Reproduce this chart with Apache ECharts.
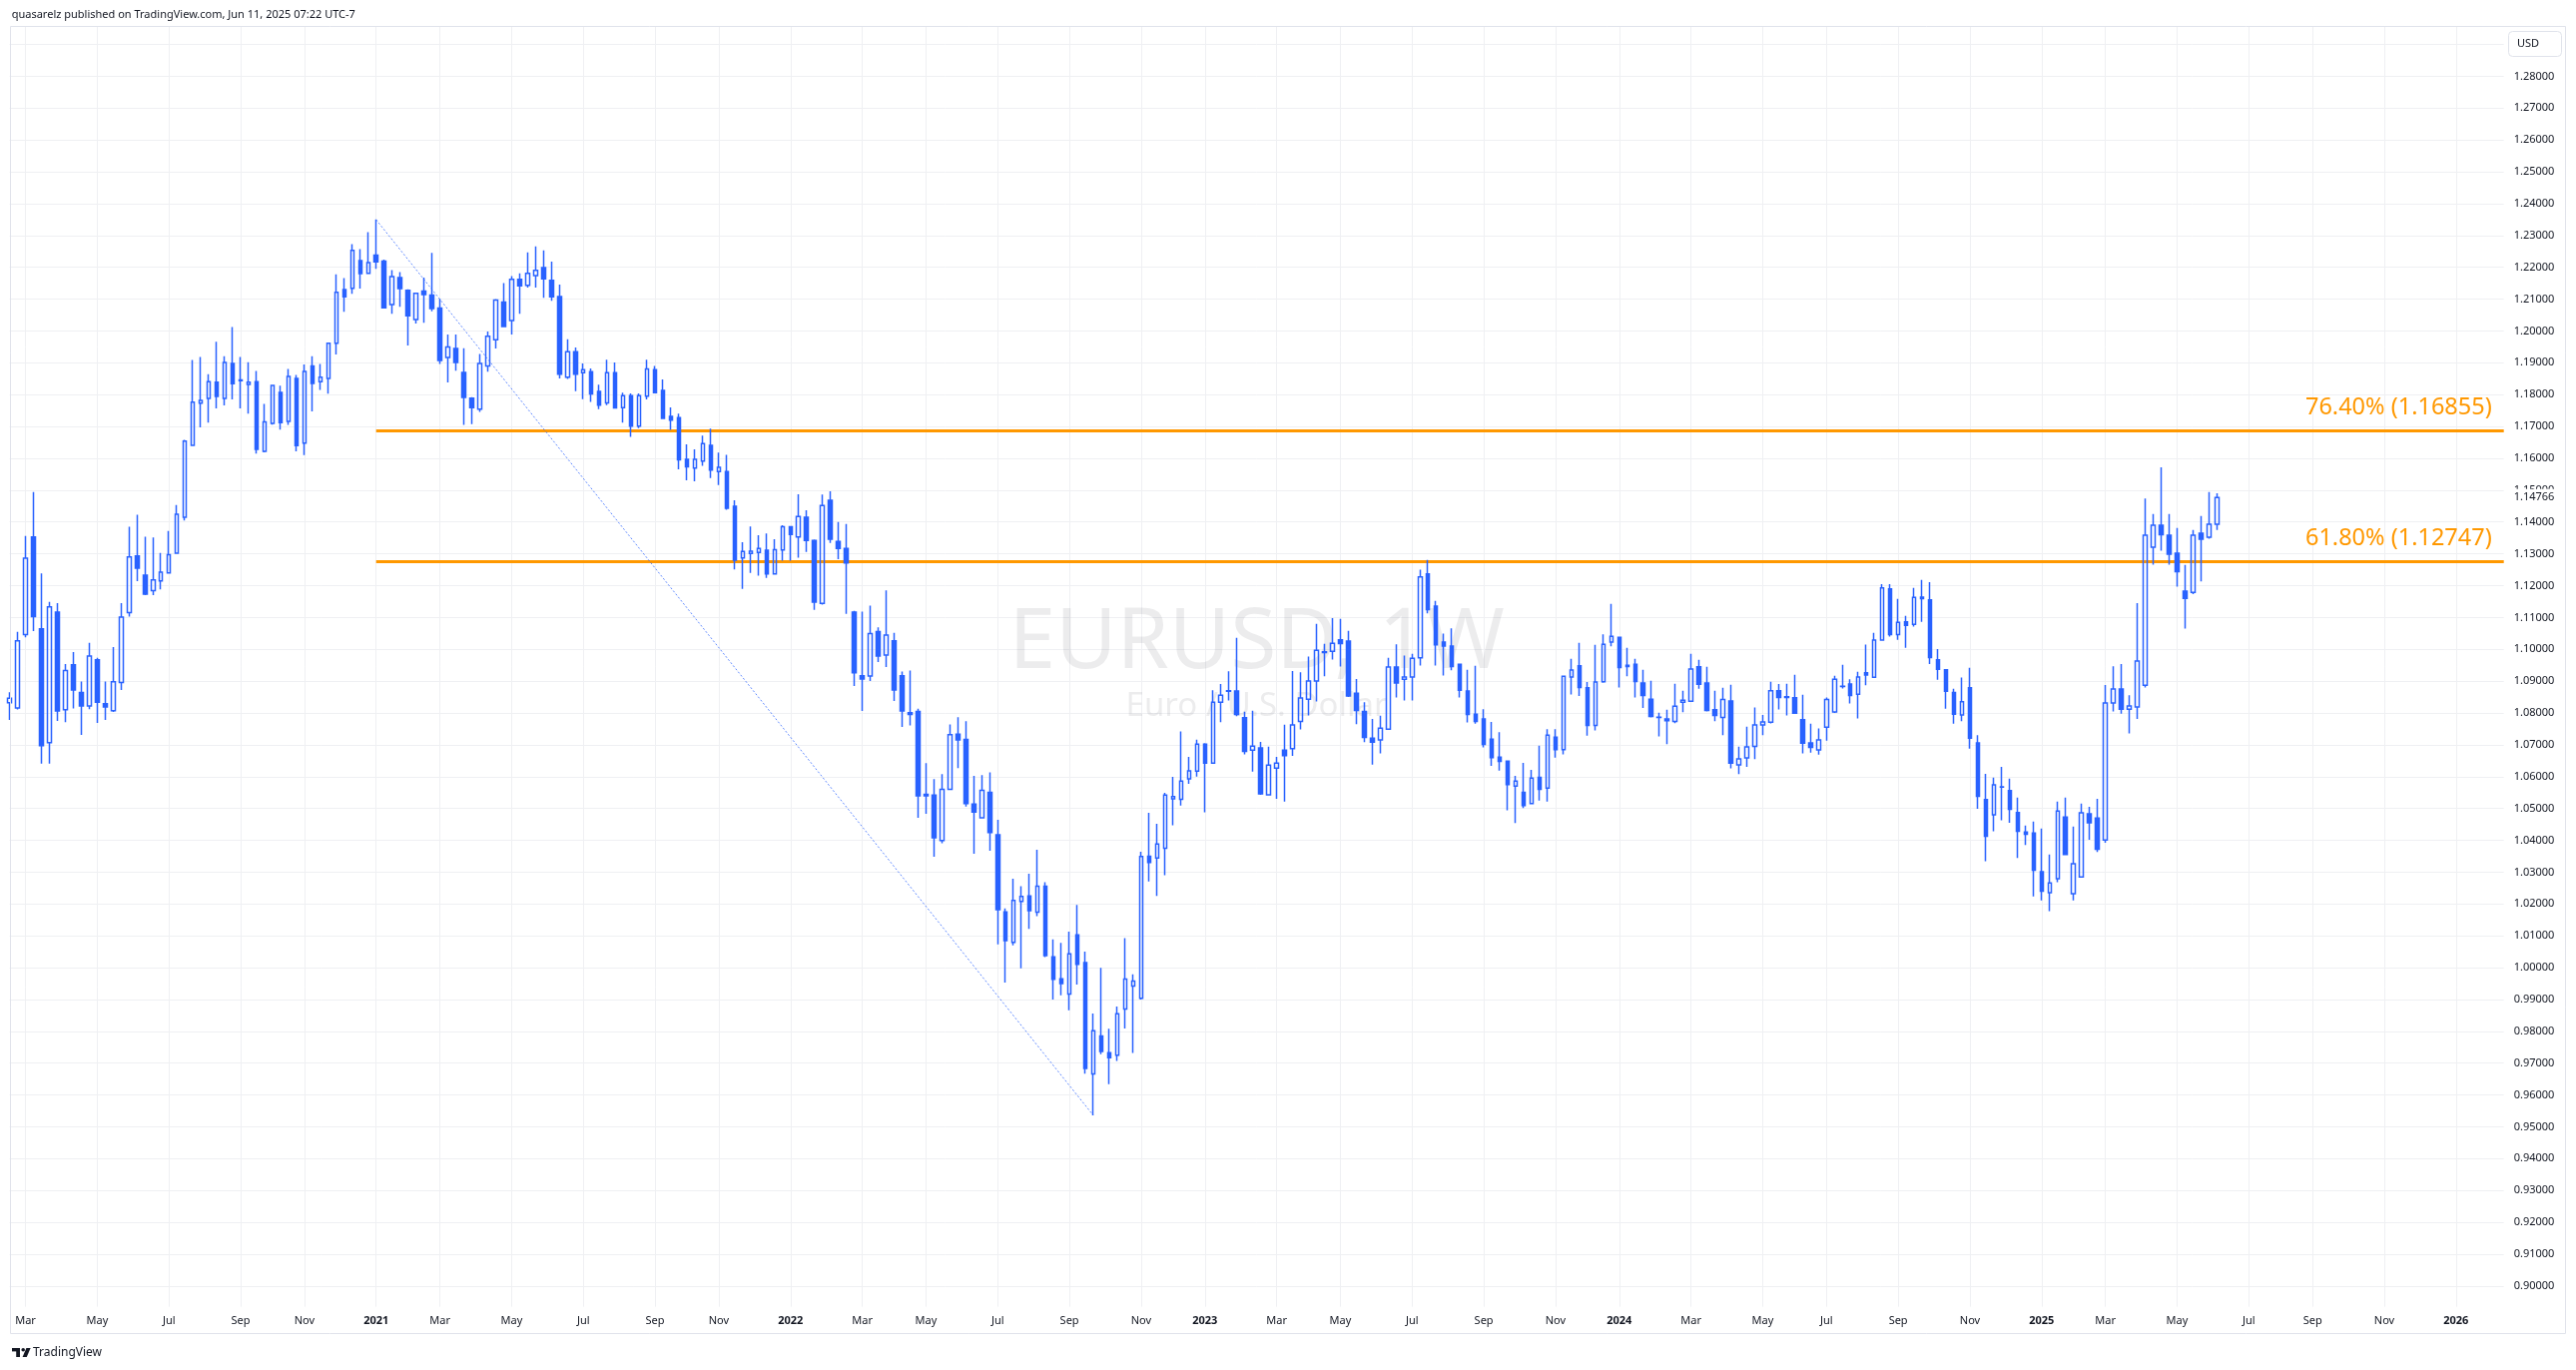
<!DOCTYPE html>
<html>
<head>
<meta charset="utf-8">
<script src="https://cdn.jsdelivr.net/npm/echarts@6/dist/echarts.min.js"></script>
<style>html,body{margin:0;padding:0;background:#fff;}#c{width:2580px;height:1372px;}</style>
</head>
<body>
<div id="c"></div>
<script>
// ---- data: weekly EURUSD bars, [open, high, low, close], grouped by year of the week start ----
const firstWeek = '2020-02-17';
const totalWeeks = 314; // categories incl. empty future weeks
const w2020 = [
[1.0832,1.0865,1.0778,1.0846],[1.0816,1.1055,1.0811,1.1027],[1.1046,1.1356,1.1038,1.1286],[1.1353,1.1494,1.1057,1.1103],
[1.1064,1.1238,1.0641,1.0697],[1.0707,1.1149,1.0641,1.1133],[1.1117,1.1145,1.0775,1.0806],[1.0810,1.0954,1.0771,1.0933],
[1.0951,1.0991,1.0814,1.0872],[1.0864,1.0899,1.0731,1.0822],[1.0822,1.1020,1.0812,1.0979],[1.0967,1.0973,1.0769,1.0834],
[1.0829,1.0899,1.0778,1.0819],[1.0807,1.1007,1.0803,1.0898],[1.0896,1.1145,1.0872,1.1101],[1.1115,1.1385,1.1103,1.1290],
[1.1293,1.1423,1.1214,1.1255],[1.1233,1.1354,1.1170,1.1173],[1.1184,1.1351,1.1170,1.1218],[1.1215,1.1303,1.1188,1.1242],
[1.1240,1.1372,1.1238,1.1297],[1.1302,1.1453,1.1300,1.1424],[1.1415,1.1658,1.1405,1.1654],[1.1641,1.1909,1.1639,1.1776],
[1.1773,1.1918,1.1697,1.1782],[1.1788,1.1864,1.1712,1.1841],[1.1839,1.1966,1.1757,1.1794],[1.1788,1.1921,1.1766,1.1901],
[1.1898,1.2012,1.1785,1.1834],[1.1846,1.1918,1.1757,1.1844],[1.1832,1.1902,1.1740,1.1839],[1.1841,1.1874,1.1615,1.1628],
[1.1622,1.1771,1.1619,1.1714],[1.1710,1.1831,1.1706,1.1829],[1.1807,1.1828,1.1690,1.1712],[1.1716,1.1881,1.1705,1.1857],
[1.1851,1.1862,1.1622,1.1640],[1.1648,1.1895,1.1610,1.1873],[1.1890,1.1921,1.1747,1.1835],[1.1841,1.1896,1.1815,1.1855],
[1.1851,1.1964,1.1803,1.1961],[1.1961,1.2178,1.1926,1.2121],[1.2130,1.2166,1.2060,1.2107],[1.2134,1.2273,1.2117,1.2253],
[1.2221,1.2257,1.2133,1.2180],[1.2181,1.2310,1.2179,1.2215]
];
const w2021 = [
[1.2238,1.2350,1.2195,1.2217],[1.2219,1.2224,1.2070,1.2073],[1.2083,1.2191,1.2054,1.2171],[1.2168,1.2185,1.2076,1.2133],
[1.2128,1.2131,1.1954,1.2048],[1.2036,1.2120,1.2023,1.2118],[1.2125,1.2168,1.2026,1.2114],[1.2113,1.2245,1.2062,1.2070],
[1.2072,1.2101,1.1896,1.1907],[1.1917,1.1989,1.1838,1.1950],[1.1945,1.1989,1.1875,1.1901],[1.1870,1.1946,1.1705,1.1791],
[1.1789,1.1792,1.1707,1.1759],[1.1754,1.1928,1.1746,1.1898],[1.1890,1.1998,1.1872,1.1983],[1.1972,1.2100,1.1945,1.2097],
[1.2091,1.2150,1.2012,1.2014],[1.2033,1.2172,1.1989,1.2162],[1.2162,1.2181,1.2054,1.2142],[1.2143,1.2247,1.2136,1.2181],
[1.2174,1.2266,1.2136,1.2190],[1.2199,1.2253,1.2104,1.2164],[1.2159,1.2218,1.2095,1.2107],[1.2108,1.2146,1.1851,1.1864],
[1.1855,1.1974,1.1849,1.1935],[1.1935,1.1948,1.1811,1.1864],[1.1869,1.1898,1.1786,1.1878],[1.1872,1.1882,1.1777,1.1802],
[1.1810,1.1831,1.1754,1.1767],[1.1774,1.1910,1.1767,1.1869],[1.1869,1.1901,1.1756,1.1758],[1.1759,1.1806,1.1712,1.1797],
[1.1797,1.1804,1.1667,1.1701],[1.1701,1.1804,1.1695,1.1797],[1.1795,1.1910,1.1785,1.1881],[1.1878,1.1890,1.1804,1.1806],
[1.1813,1.1848,1.1723,1.1725],[1.1732,1.1760,1.1689,1.1720],[1.1728,1.1740,1.1565,1.1595],[1.1597,1.1644,1.1531,1.1573],
[1.1569,1.1628,1.1528,1.1597],[1.1591,1.1671,1.1576,1.1646],[1.1641,1.1693,1.1538,1.1563],[1.1558,1.1618,1.1516,1.1572],
[1.1558,1.1611,1.1438,1.1443],[1.1449,1.1468,1.1251,1.1280],[1.1287,1.1336,1.1190,1.1307],[1.1301,1.1386,1.1240,1.1308],
[1.1304,1.1358,1.1231,1.1317],[1.1311,1.1364,1.1224,1.1237],[1.1237,1.1346,1.1235,1.1313],[1.1312,1.1390,1.1278,1.1385]
];
const w2022 = [
[1.1385,1.1386,1.1278,1.1361],[1.1353,1.1487,1.1288,1.1417],[1.1415,1.1437,1.1306,1.1342],[1.1342,1.1345,1.1124,1.1148],
[1.1144,1.1486,1.1140,1.1452],[1.1468,1.1496,1.1334,1.1346],[1.1339,1.1400,1.1283,1.1317],[1.1317,1.1394,1.1111,1.1271],
[1.1117,1.1121,1.0885,1.0926],[1.0917,1.1118,1.0806,1.0907],[1.0916,1.1137,1.0900,1.1049],[1.1056,1.1069,1.0960,1.0979],
[1.0982,1.1185,1.0944,1.1045],[1.1027,1.1052,1.0838,1.0872],[1.0917,1.0930,1.0756,1.0806],[1.0801,1.0933,1.0761,1.0795],
[1.0805,1.0813,1.0471,1.0540],[1.0544,1.0642,1.0483,1.0540],[1.0542,1.0592,1.0348,1.0408],[1.0399,1.0608,1.0391,1.0560],
[1.0560,1.0764,1.0558,1.0732],[1.0733,1.0787,1.0627,1.0715],[1.0717,1.0774,1.0506,1.0515],[1.0514,1.0602,1.0358,1.0489],
[1.0471,1.0605,1.0468,1.0557],[1.0551,1.0613,1.0367,1.0424],[1.0417,1.0464,1.0073,1.0182],[1.0175,1.0186,0.9953,1.0085],
[1.0079,1.0279,1.0070,1.0211],[1.0208,1.0256,0.9998,1.0224],[1.0225,1.0295,1.0122,1.0179],[1.0174,1.0370,1.0162,1.0256],
[1.0256,1.0268,1.0033,1.0038],[1.0034,1.0089,0.9900,0.9963],[0.9965,1.0078,0.9913,0.9950],[0.9917,1.0113,0.9866,1.0043],
[1.0103,1.0197,0.9947,1.0010],[1.0016,1.0050,0.9667,0.9683],[0.9666,0.9856,0.9536,0.9802],[0.9785,0.9999,0.9728,0.9737],
[0.9733,0.9808,0.9634,0.9717],[0.9725,0.9878,0.9707,0.9855],[0.9870,1.0093,0.9809,0.9964],[0.9942,0.9979,0.9732,0.9958],
[0.9904,1.0364,0.9900,1.0349],[1.0350,1.0486,1.0271,1.0330],[1.0344,1.0452,1.0225,1.0388],[1.0375,1.0549,1.0290,1.0542],
[1.0530,1.0599,1.0447,1.0537],[1.0529,1.0742,1.0509,1.0586],[1.0593,1.0662,1.0577,1.0618],[1.0617,1.0716,1.0600,1.0702]
];
const w2023 = [
[1.0702,1.0705,1.0488,1.0642],[1.0642,1.0871,1.0640,1.0834],[1.0834,1.0891,1.0771,1.0856],[1.0868,1.0931,1.0839,1.0870],
[1.0869,1.1036,1.0790,1.0795],[1.0785,1.0804,1.0670,1.0679],[1.0683,1.0807,1.0616,1.0696],[1.0690,1.0709,1.0543,1.0546],
[1.0543,1.0694,1.0541,1.0636],[1.0627,1.0662,1.0530,1.0642],[1.0683,1.0763,1.0522,1.0666],[1.0688,1.0932,1.0665,1.0762],
[1.0773,1.0928,1.0748,1.0847],[1.0843,1.0977,1.0792,1.0900],[1.0900,1.1080,1.0836,1.0997],[1.0990,1.1017,1.0915,1.0992],
[1.0994,1.1098,1.0968,1.1019],[1.1030,1.1096,1.0946,1.1018],[1.1026,1.1058,1.0850,1.0853],[1.0862,1.0907,1.0765,1.0808],
[1.0805,1.0834,1.0708,1.0723],[1.0721,1.0781,1.0638,1.0708],[1.0715,1.0791,1.0673,1.0752],[1.0749,1.0973,1.0747,1.0944],
[1.0944,1.1016,1.0849,1.0894],[1.0906,1.0980,1.0839,1.0913],[1.0913,1.0986,1.0839,1.0972],[1.0973,1.1250,1.0949,1.1227],
[1.1237,1.1281,1.1113,1.1125],[1.1136,1.1152,1.0949,1.1014],[1.1023,1.1049,1.0918,1.1010],[1.1010,1.1066,1.0934,1.0946],
[1.0953,1.0955,1.0849,1.0871],[1.0869,1.0936,1.0770,1.0795],[1.0796,1.0948,1.0766,1.0773],[1.0781,1.0812,1.0692,1.0701],
[1.0718,1.0772,1.0634,1.0660],[1.0661,1.0740,1.0619,1.0648],[1.0649,1.0650,1.0494,1.0575],[1.0570,1.0602,1.0454,1.0586],
[1.0551,1.0643,1.0501,1.0509],[1.0515,1.0621,1.0513,1.0595],[1.0598,1.0697,1.0525,1.0560],[1.0564,1.0749,1.0522,1.0730],
[1.0724,1.0749,1.0660,1.0685],[1.0685,1.0917,1.0670,1.0915],[1.0913,1.0970,1.0858,1.0935],[1.0948,1.1020,1.0853,1.0880],
[1.0879,1.0897,1.0729,1.0761],[1.0761,1.1014,1.0745,1.0897],[1.0898,1.1047,1.0895,1.1016],[1.1023,1.1143,1.1009,1.1041]
];
const w2024 = [
[1.1038,1.1040,1.0880,1.0943],[1.0950,1.1005,1.0915,1.0946],[1.0953,1.0970,1.0849,1.0899],[1.0894,1.0936,1.0816,1.0855],
[1.0843,1.0901,1.0786,1.0789],[1.0787,1.0801,1.0726,1.0786],[1.0781,1.0810,1.0702,1.0776],[1.0773,1.0892,1.0768,1.0821],
[1.0834,1.0870,1.0802,1.0840],[1.0837,1.0986,1.0835,1.0938],[1.0945,1.0967,1.0876,1.0890],[1.0894,1.0945,1.0805,1.0808],
[1.0810,1.0870,1.0774,1.0792],[1.0786,1.0879,1.0730,1.0842],[1.0838,1.0889,1.0626,1.0642],[1.0637,1.0694,1.0608,1.0656],
[1.0659,1.0757,1.0631,1.0693],[1.0695,1.0817,1.0655,1.0762],[1.0762,1.0794,1.0730,1.0772],[1.0771,1.0898,1.0767,1.0870],
[1.0870,1.0891,1.0811,1.0849],[1.0851,1.0892,1.0792,1.0849],[1.0848,1.0920,1.0797,1.0799],[1.0779,1.0857,1.0673,1.0705],
[1.0706,1.0766,1.0675,1.0692],[1.0684,1.0751,1.0669,1.0715],[1.0755,1.0849,1.0713,1.0842],[1.0803,1.0917,1.0800,1.0906],
[1.0883,1.0951,1.0877,1.0884],[1.0891,1.0906,1.0830,1.0855],[1.0859,1.0929,1.0783,1.0913],[1.0926,1.1015,1.0887,1.0919],
[1.0912,1.1052,1.0910,1.1029],[1.1029,1.1205,1.1027,1.1193],[1.1190,1.1205,1.1040,1.1046],[1.1046,1.1158,1.1030,1.1085],
[1.1086,1.1105,1.1005,1.1075],[1.1078,1.1193,1.1071,1.1163],[1.1164,1.1218,1.1086,1.1159],[1.1155,1.1211,1.0954,1.0974],
[1.0967,1.1001,1.0904,1.0937],[1.0936,1.0937,1.0813,1.0868],[1.0864,1.0876,1.0766,1.0796],[1.0794,1.0911,1.0774,1.0835],
[1.0879,1.0942,1.0688,1.0721],[1.0706,1.0730,1.0499,1.0538],[1.0528,1.0609,1.0334,1.0413],[1.0480,1.0597,1.0428,1.0574],
[1.0567,1.0631,1.0463,1.0568],[1.0556,1.0594,1.0455,1.0497],[1.0487,1.0534,1.0344,1.0428],[1.0426,1.0446,1.0385,1.0419],
[1.0423,1.0459,1.0224,1.0306]
];
const w2025 = [
[1.0301,1.0437,1.0211,1.0240],[1.0235,1.0355,1.0177,1.0266],[1.0279,1.0522,1.0268,1.0492],[1.0473,1.0534,1.0353,1.0355],
[1.0232,1.0443,1.0211,1.0326],[1.0285,1.0515,1.0283,1.0486],[1.0483,1.0505,1.0402,1.0455],[1.0470,1.0530,1.0363,1.0372],
[1.0401,1.0888,1.0392,1.0831],[1.0831,1.0947,1.0805,1.0875],[1.0875,1.0954,1.0798,1.0812],[1.0812,1.0856,1.0736,1.0822],
[1.0819,1.1145,1.0781,1.0963],[1.0887,1.1474,1.0880,1.1358],[1.1321,1.1425,1.1266,1.1390],[1.1390,1.1572,1.1310,1.1360],
[1.1358,1.1425,1.1266,1.1299],[1.1302,1.1381,1.1197,1.1244],[1.1183,1.1265,1.1065,1.1160],[1.1179,1.1375,1.1173,1.1358],
[1.1365,1.1419,1.1213,1.1346],[1.1352,1.1494,1.1347,1.1393],[1.1393,1.1490,1.1375,1.14766]
];
// Fibonacci retracement drawn on the chart
const fibHigh = {week: '2021-01-04', value: 1.23495};
const fibLow  = {week: '2022-09-26', value: 0.95358};
const fibLevels = [{pct: '76.40%', value: 1.16855}, {pct: '61.80%', value: 1.12747}];
// axis ticks / labels
const yMin = 0.90, yMax = 1.29, yStep = 0.01;
const monthNames = ['Jan','Feb','Mar','Apr','May','Jun','Jul','Aug','Sep','Oct','Nov','Dec'];
const labelMonths = [0, 2, 4, 6, 8, 10];
const headerText = 'quasarelz published on TradingView.com, Jun 11, 2025 07:22 UTC-7';
const symbolText = 'EURUSD, 1W';
const symbolDesc = 'Euro / U.S. Dollar';
const currencyText = 'USD';

// ---- build ----
const cats = [];
const t0 = Date.parse(firstWeek + 'T00:00:00Z');
for (let i = 0; i < totalWeeks; i++) cats.push(new Date(t0 + i * 7 * 86400000).toISOString().slice(0, 10));
const bars = [].concat(w2020, w2021, w2022, w2023, w2024, w2025);
const candleData = bars.map(b => [b[0], b[3], b[2], b[1]]);
const lastClose = bars[bars.length - 1][3];
const lastCat = cats[cats.length - 1];

function monthOf(i) { return +cats[i].slice(5, 7) - 1; }
function isLabelWeek(i) {
  if (i <= 0) return false;
  const m = monthOf(i);
  return m !== monthOf(i - 1) && labelMonths.indexOf(m) >= 0;
}

const FONT = "'Noto Sans', 'DejaVu Sans', sans-serif";
const TXT = '#131722';
const GRIDC = '#eff0f3';
const BLUE = '#2962FF';
const ORANGE = '#FF9800';
const PL = 9.6, PW = 2498.1;

const chart = echarts.init(document.getElementById('c'), null, {renderer: 'canvas', width: 2580, height: 1372});

const fibMarks = fibLevels.map(f => [
  {coord: [fibHigh.week, f.value], lineStyle: {color: ORANGE, width: 3, type: 'solid'},
   label: {show: true, position: 'insideEndTop', distance: [12, 11], formatter: f.pct + ' (' + f.value.toFixed(5) + ')',
           color: ORANGE, fontSize: 23.5, fontFamily: FONT}},
  {coord: [lastCat, f.value]}
]);
const trendMark = [
  {coord: [fibHigh.week, fibHigh.value], lineStyle: {color: 'rgba(41,98,255,0.75)', width: 1, type: [2, 2]}, label: {show: false}},
  {coord: [fibLow.week, fibLow.value]}
];

const option = {
  animation: false,
  backgroundColor: '#ffffff',
  grid: [
    {left: PL, width: PW, top: 44.52, height: 1243.32},
    {left: PL, width: PW, top: 27, height: 1281.7}
  ],
  xAxis: [
    {type: 'category', gridIndex: 0, data: cats, boundaryGap: false, show: false},
    {type: 'category', gridIndex: 1, data: cats, boundaryGap: false,
     axisLine: {show: false}, axisTick: {show: false},
     axisLabel: {
       interval: (i) => isLabelWeek(i), margin: 9, color: TXT, fontSize: 11, fontFamily: FONT,
       formatter: (v) => { const m = +v.slice(5, 7) - 1; return m === 0 ? '{y|' + v.slice(0, 4) + '}' : monthNames[m]; },
       rich: {y: {fontWeight: 'bold', fontSize: 11, color: TXT, fontFamily: FONT}}
     },
     splitLine: {show: true, interval: (i) => isLabelWeek(i), lineStyle: {color: GRIDC, width: 1}}}
  ],
  yAxis: [
    {type: 'value', gridIndex: 0, position: 'right', min: yMin, max: yMax, interval: yStep, scale: true,
     axisLine: {show: false}, axisTick: {show: false},
     axisLabel: {margin: 10, color: TXT, fontSize: 11, fontFamily: FONT,
                 formatter: (v) => (v > yMax - yStep / 2 ? '' : v.toFixed(5))},
     splitLine: {show: true, lineStyle: {color: GRIDC, width: 1}}},
    {type: 'value', gridIndex: 1, show: false, min: 0, max: 1, splitLine: {show: false}}
  ],
  series: [{
    type: 'candlestick', xAxisIndex: 0, yAxisIndex: 0, data: candleData, barWidth: 4, z: 5,
    itemStyle: {color: 'rgba(255,255,255,0)', color0: BLUE, borderColor: BLUE, borderColor0: BLUE, borderWidth: 1.5},
    emphasis: {disabled: true},
    markLine: {silent: true, symbol: ['none', 'none'], animation: false, data: fibMarks.concat([trendMark])}
  }]
};
chart.setOption(option);

// graphic overlays (texts, frame, price label) placed through the chart's own scales
const py = chart.convertToPixel({yAxisIndex: 0}, lastClose);
chart.setOption({graphic: [
  {type: 'text', z: 0, silent: true, x: PL + PW / 2, y: 645,
   style: {text: symbolText, fontSize: 84, fontFamily: FONT, fill: 'rgba(42,46,57,0.09)', align: 'center', verticalAlign: 'middle'}},
  {type: 'text', z: 0, silent: true, x: PL + PW / 2, y: 708,
   style: {text: symbolDesc, fontSize: 33, fontFamily: FONT, fill: 'rgba(42,46,57,0.09)', align: 'center', verticalAlign: 'middle'}},
  {type: 'text', z: 100, silent: true, x: 11.7, y: 15,
   style: {text: headerText, fontSize: 11, fontFamily: FONT, fill: TXT, align: 'left', verticalAlign: 'middle'}},
  {type: 'rect', z: 90, silent: true, shape: {x: 10.5, y: 26.5, width: 2559, height: 1309},
   style: {fill: 'none', stroke: '#e0e3eb', lineWidth: 1}},
  {type: 'rect', z: 100, silent: true, shape: {x: 2512.5, y: 31.5, width: 53, height: 25, r: 4},
   style: {fill: '#ffffff', stroke: '#e0e3eb', lineWidth: 1}},
  {type: 'text', z: 101, silent: true, x: 2521, y: 44,
   style: {text: currencyText, fontSize: 11, fontFamily: FONT, fill: TXT, align: 'left', verticalAlign: 'middle'}},
  {type: 'rect', z: 100, silent: true, shape: {x: 2509, y: py - 8.5, width: 58, height: 17.5},
   style: {fill: '#ffffff'}},
  {type: 'text', z: 101, silent: true, x: 2517.7, y: py,
   style: {text: lastClose.toFixed(5), fontSize: 11, fontFamily: FONT, fill: TXT, align: 'left', verticalAlign: 'middle'}},
  // TradingView logo + wordmark
  {type: 'rect', z: 100, silent: true, shape: {x: 12, y: 1350, width: 8, height: 3.4}, style: {fill: TXT}},
  {type: 'rect', z: 100, silent: true, shape: {x: 16.2, y: 1350, width: 3.8, height: 9}, style: {fill: TXT}},
  {type: 'circle', z: 100, silent: true, shape: {cx: 23.2, cy: 1351.8, r: 1.8}, style: {fill: TXT}},
  {type: 'polygon', z: 100, silent: true, shape: {points: [[26.4, 1350], [30.6, 1350], [26.8, 1359], [22.6, 1359]]}, style: {fill: TXT}},
  {type: 'text', z: 100, silent: true, x: 33, y: 1355,
   style: {text: 'TradingView', fontSize: 12, fontFamily: FONT, fill: TXT, align: 'left', verticalAlign: 'middle'}}
]});
</script>
</body>
</html>
